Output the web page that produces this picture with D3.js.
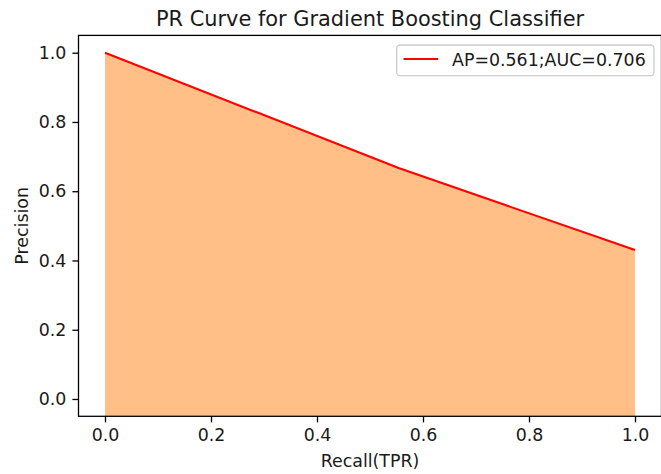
<!DOCTYPE html>
<html>
<head>
<meta charset="utf-8">
<script src="https://cdn.jsdelivr.net/npm/d3@7/dist/d3.min.js"></script>
<style>
  html, body { margin: 0; padding: 0; background: #fff; }
  svg { display: block; font-family: "DejaVu Sans", sans-serif; }
</style>
</head>
<body>
<svg id="chart" width="661" height="474"></svg>
<script>
// Precision-recall points of the classifier
const recall = [0, 0.554, 1];
const precision = [1, 0.667, 0.43];
const legendLabel = "AP=0.561;AUC=0.706";
const xTicks = [0, 0.2, 0.4, 0.6, 0.8, 1.0];
const yTicks = [0, 0.2, 0.4, 0.6, 0.8, 1.0];
const titleText = "PR Curve for Gradient Boosting Classifier";
const xLabel = "Recall(TPR)";
const yLabel = "Precision";

const svg = d3.select("#chart");
const plot = { left: 78.5, right: 661.5, top: 35.4, bottom: 416.3 };

const x = d3.scaleLinear().domain([-0.05, 1.05]).range([plot.left, plot.right]);
const y = d3.scaleLinear().domain([-0.05, 1.05]).range([plot.bottom, plot.top]);

const pts = recall.map((r, i) => ({ r, p: precision[i] }));

// shaded area under the curve, down to the lower edge of the axes
const yFloor = y.domain()[0];
svg.append("path")
  .datum(pts)
  .attr("d", d3.area().x(d => x(d.r)).y0(y(yFloor)).y1(d => y(d.p)))
  .attr("fill", "#ff7f0e")
  .attr("fill-opacity", 0.5);

// curve
svg.append("path")
  .datum(pts)
  .attr("d", d3.line().x(d => x(d.r)).y(d => y(d.p)))
  .attr("fill", "none")
  .attr("stroke", "#ff0000")
  .attr("stroke-width", 2.1);

const fmt = d3.format(".1f");
const tickLen = 6.1, tickPad = 6.1, fs = 17.4;

// x axis
const xAxis = d3.axisBottom(x).tickValues(xTicks).tickFormat(fmt)
  .tickSizeInner(tickLen).tickSizeOuter(0).tickPadding(tickPad);
const gx = svg.append("g").attr("transform", `translate(0,${plot.bottom})`).call(xAxis);
gx.select(".domain").remove();
gx.selectAll(".tick line").attr("stroke", "#000").attr("stroke-width", 1.3);
gx.selectAll(".tick text").attr("font-size", fs).attr("fill", "#1a1a1a")
  .attr("font-family", "DejaVu Sans");

// y axis
const yAxis = d3.axisLeft(y).tickValues(yTicks).tickFormat(fmt)
  .tickSizeInner(tickLen).tickSizeOuter(0).tickPadding(tickPad);
const gy = svg.append("g").attr("transform", `translate(${plot.left},0)`).call(yAxis);
gy.select(".domain").remove();
gy.selectAll(".tick line").attr("stroke", "#000").attr("stroke-width", 1.3);
gy.selectAll(".tick text").attr("font-size", fs).attr("fill", "#1a1a1a")
  .attr("font-family", "DejaVu Sans");

// spines
svg.append("rect")
  .attr("x", plot.left).attr("y", plot.top)
  .attr("width", plot.right - plot.left).attr("height", plot.bottom - plot.top)
  .attr("fill", "none").attr("stroke", "#000").attr("stroke-width", 1.3);

// title and axis labels
svg.append("text")
  .attr("x", (plot.left + plot.right) / 2).attr("y", 26)
  .attr("text-anchor", "middle").attr("font-size", 20.9).attr("fill", "#1a1a1a")
  .text(titleText);

svg.append("text")
  .attr("x", (plot.left + plot.right) / 2).attr("y", 466.5)
  .attr("text-anchor", "middle").attr("font-size", fs).attr("fill", "#1a1a1a")
  .text(xLabel);

svg.append("text")
  .attr("transform", `translate(28,${(plot.top + plot.bottom) / 2}) rotate(-90)`)
  .attr("text-anchor", "middle").attr("font-size", fs).attr("fill", "#1a1a1a")
  .text(yLabel);

// legend
const lg = svg.append("g");
lg.append("rect")
  .attr("x", 396.7).attr("y", 45).attr("width", 257.3).attr("height", 30.7)
  .attr("rx", 3.5).attr("fill", "#fff").attr("fill-opacity", 0.8)
  .attr("stroke", "#cccccc").attr("stroke-width", 1.3);
lg.append("line")
  .attr("x1", 403.5).attr("x2", 438.2).attr("y1", 59).attr("y2", 59)
  .attr("stroke", "#ff0000").attr("stroke-width", 2.1);
lg.append("text")
  .attr("x", 452).attr("y", 66).attr("font-size", fs).attr("fill", "#1a1a1a")
  .text(legendLabel);
</script>
</body>
</html>
